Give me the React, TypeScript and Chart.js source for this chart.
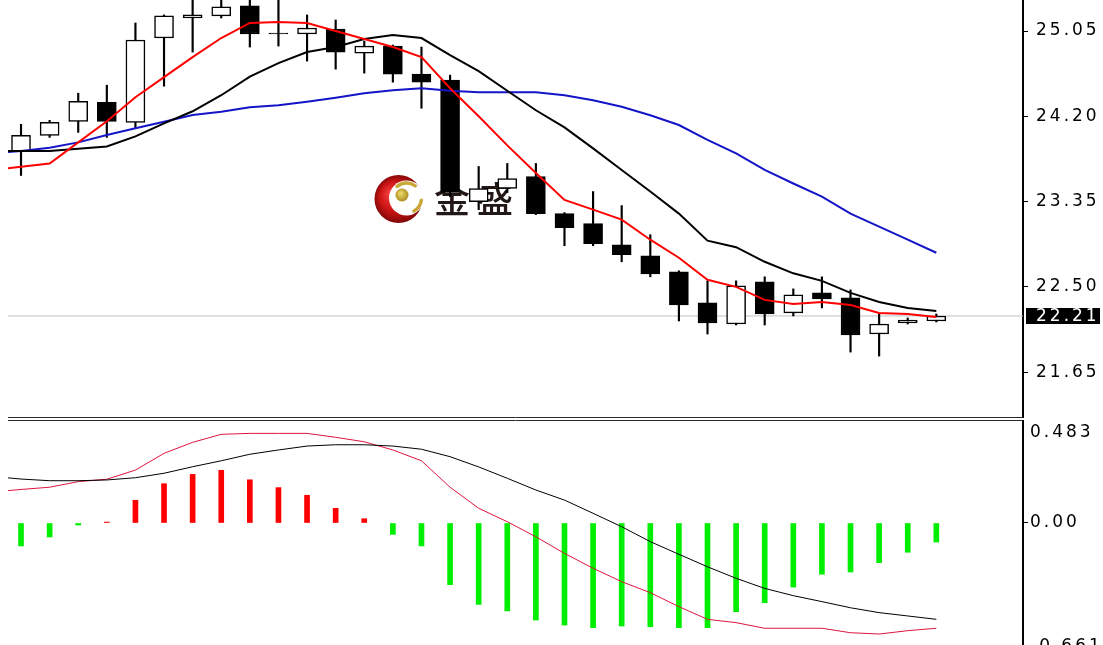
import React, { useEffect, useRef } from "react";
import { Chart, registerables } from "chart.js";

Chart.register(...registerables);

// ---- Candles (bar index 0..32) ----
const OPEN = [23.85, 24.01, 24.15, 24.34, 24.14, 24.98, 25.18, 25.2, 25.3, 25.03, 25.02, 25.07, 24.83, 24.9, 24.62, 24.56, 23.35, 23.48, 23.6, 23.23, 23.13, 22.92, 22.81, 22.65, 22.34, 22.13, 22.55, 22.24, 22.44, 22.39, 22.03, 22.14, 22.16];
const HIGH = [24.12, 24.16, 24.43, 24.51, 25.13, 25.21, 25.42, 25.4, 25.45, 25.41, 25.21, 25.16, 24.95, 24.91, 24.89, 24.61, 23.7, 23.73, 23.73, 23.24, 23.45, 23.31, 23.02, 22.66, 22.56, 22.56, 22.6, 22.48, 22.6, 22.47, 22.23, 22.19, 22.23];
const LOW = [23.61, 23.99, 24.04, 23.99, 24.08, 24.5, 24.84, 25.18, 24.89, 24.9, 24.75, 24.67, 24.63, 24.54, 24.28, 23.4, 23.27, 23.44, 23.22, 22.91, 22.91, 22.75, 22.6, 22.16, 22.03, 22.12, 22.12, 22.21, 22.29, 21.85, 21.81, 22.13, 22.15];
const CLOSE = [24.01, 24.14, 24.35, 24.15, 24.96, 25.2, 25.21, 25.29, 25.02, 25.02, 25.08, 24.84, 24.9, 24.62, 24.54, 23.44, 23.48, 23.58, 23.23, 23.09, 22.93, 22.82, 22.63, 22.32, 22.14, 22.51, 22.23, 22.42, 22.38, 22.02, 22.13, 22.17, 22.21];

// ---- Moving averages (first value = bar just left of the window, index -1) ----
const MA_RED = [23.665, 23.698, 23.73, 23.94, 24.15, 24.39, 24.59, 24.79, 24.98, 25.13, 25.14, 25.13, 25.05, 24.97, 24.89, 24.79, 24.48, 24.2, 23.91, 23.635, 23.366, 23.27, 23.17, 22.97, 22.79, 22.57, 22.5, 22.37, 22.33, 22.35, 22.32, 22.24, 22.23, 22.2];
const MA_BLACK = [23.854, 23.854, 23.854, 23.877, 23.9, 24.0, 24.13, 24.25, 24.41, 24.595, 24.73, 24.84, 24.89, 24.97, 25.01, 24.98, 24.81, 24.65, 24.455, 24.26, 24.09, 23.88, 23.665, 23.45, 23.23, 22.96, 22.895, 22.75, 22.635, 22.56, 22.44, 22.35, 22.29, 22.26];
const MA_BLUE = [23.83, 23.854, 23.887, 23.94, 24.014, 24.08, 24.146, 24.213, 24.246, 24.29, 24.31, 24.346, 24.385, 24.43, 24.46, 24.48, 24.455, 24.44, 24.44, 24.44, 24.41, 24.36, 24.295, 24.21, 24.113, 23.964, 23.83, 23.665, 23.53, 23.4, 23.23, 23.1, 22.97, 22.84];

// ---- MACD (lines start at index -1, histogram at index 0) ----
const MACD_DIF = [0.166, 0.18, 0.192, 0.222, 0.235, 0.284, 0.374, 0.433, 0.476, 0.481, 0.481, 0.481, 0.46, 0.436, 0.392, 0.334, 0.192, 0.079, 0.007, -0.074, -0.163, -0.243, -0.315, -0.374, -0.449, -0.517, -0.535, -0.565, -0.565, -0.565, -0.589, -0.596, -0.578, -0.565];
const MACD_DEA = [0.25, 0.236, 0.227, 0.227, 0.231, 0.243, 0.267, 0.302, 0.334, 0.369, 0.392, 0.413, 0.42, 0.42, 0.413, 0.396, 0.356, 0.301, 0.24, 0.177, 0.123, 0.052, -0.02, -0.1, -0.168, -0.235, -0.297, -0.351, -0.39, -0.422, -0.455, -0.481, -0.499, -0.517];
const MACD_HIST = [-0.123, -0.075, -0.011, 0.005, 0.122, 0.211, 0.261, 0.283, 0.232, 0.19, 0.149, 0.079, 0.023, -0.061, -0.123, -0.331, -0.437, -0.472, -0.521, -0.548, -0.562, -0.553, -0.557, -0.562, -0.562, -0.476, -0.428, -0.344, -0.275, -0.263, -0.213, -0.157, -0.102];

// ---- Tick labels ----
const PRICE_TICKS = [25.05, 24.2, 23.35, 22.5, 21.65];
const MACD_TICKS = [0.483, 0, -0.661];
const MACD_TICK_LABELS = ["0.483", "0.00", "-0.661"];

// ---- Axis ranges ----
const X_MIN = -0.455;
const X_MAX = 35.03;
const PRICE_MIN = 21.193;
const PRICE_MAX = 25.359;
const MACD_MIN = -0.73;
const MACD_MAX = 0.5475;

const FONT = "DejaVu Sans";
const LETTER_SPACING = "3px";

const linePts = (arr: number[]) => arr.map((v, k) => ({ x: k - 1, y: v }));

const fixAxis = (s: any) => {
  s.width = 80;
  s.paddingTop = 0;
  s.paddingBottom = 0;
  s.paddingLeft = 0;
  s.paddingRight = 0;
};

function drawWatermark(ctx: CanvasRenderingContext2D, area: any) {
  const cx = area.left + 390.5;
  const cy = area.top + 199;
  ctx.save();
  const g = ctx.createRadialGradient(cx - 9, cy - 6, 2, cx, cy, 25);
  g.addColorStop(0, "#ee3a3a");
  g.addColorStop(0.55, "#cc1414");
  g.addColorStop(1, "#7c0606");
  ctx.fillStyle = g;
  ctx.beginPath();
  ctx.arc(cx, cy, 24, 0, Math.PI * 2);
  ctx.fill();
  const ix = cx + 8;
  const iy = cy - 1;
  ctx.fillStyle = "#ffffff";
  ctx.beginPath();
  ctx.arc(ix, iy, 17.5, 0, Math.PI * 2);
  ctx.fill();
  ctx.strokeStyle = "#c9a83a";
  ctx.lineWidth = 3.5;
  ctx.lineCap = "round";
  ctx.beginPath();
  ctx.arc(ix, iy, 15, -2.25, -0.95);
  ctx.stroke();
  ctx.beginPath();
  ctx.arc(ix, iy, 15, 0.15, 1.05);
  ctx.stroke();
  const dg = ctx.createRadialGradient(cx + 2, cy - 6, 1, cx + 3.5, cy - 4, 7);
  dg.addColorStop(0, "#ead466");
  dg.addColorStop(1, "#a8891a");
  ctx.fillStyle = dg;
  ctx.beginPath();
  ctx.arc(cx + 3.5, cy - 4, 6.5, 0, Math.PI * 2);
  ctx.fill();
  ctx.fillStyle = "#231815";
  ctx.font = '500 36px "Noto Sans CJK SC"';
  ctx.textBaseline = "middle";
  ctx.textAlign = "left";
  (ctx as any).letterSpacing = "7px";
  ctx.fillText("金盛", area.left + 426, cy);
  ctx.restore();
}

function mainConfig(): any {
  const idx = OPEN.map((_, i) => i);
  const bodies = idx.map((i) => ({ x: i, y: [OPEN[i], CLOSE[i]] }));
  const wicks = idx.map((i) => ({ x: i, y: [LOW[i], HIGH[i]] }));
  const last = CLOSE[CLOSE.length - 1];
  const plugin = {
    id: "mainDecor",
    beforeDraw(chart: any) {
      chart.ctx.letterSpacing = LETTER_SPACING;
    },
    beforeDatasetsDraw(chart: any) {
      drawWatermark(chart.ctx, chart.chartArea);
    },
    afterDraw(chart: any) {
      const { ctx, chartArea, scales } = chart;
      ctx.save();
      ctx.strokeStyle = "#2a2a2a";
      ctx.lineWidth = 1;
      ctx.beginPath();
      ctx.moveTo(chartArea.left, chartArea.bottom - 0.5);
      ctx.lineTo(chartArea.right, chartArea.bottom - 0.5);
      ctx.stroke();
      const y = Math.round(scales.y.getPixelForValue(last));
      ctx.fillStyle = "#000";
      ctx.fillRect(chartArea.right + 3, y - 8, 74, 16);
      ctx.fillStyle = "#fff";
      ctx.font = `17px "${FONT}"`;
      ctx.textBaseline = "middle";
      ctx.textAlign = "left";
      ctx.letterSpacing = LETTER_SPACING;
      ctx.fillText(last.toFixed(2), chartArea.right + 13, y + 0.5);
      ctx.restore();
    },
  };
  return {
    type: "bar",
    data: {
      datasets: [
        { type: "line", data: linePts(MA_RED), borderColor: "#ff0000", borderWidth: 2, pointRadius: 0, order: 0, clip: 0 },
        { type: "line", data: linePts(MA_BLACK), borderColor: "#000000", borderWidth: 2, pointRadius: 0, order: 1, clip: 0 },
        { type: "line", data: linePts(MA_BLUE), borderColor: "#1414c8", borderWidth: 2, pointRadius: 0, order: 2, clip: 0 },
        {
          type: "bar",
          data: bodies,
          backgroundColor: (c: any) => (CLOSE[c.dataIndex] >= OPEN[c.dataIndex] ? "#ffffff" : "#000000"),
          borderColor: "#000000",
          borderWidth: 1.5,
          borderSkipped: false,
          barThickness: 19,
          grouped: false,
          order: 5,
          clip: 0,
        },
        { type: "bar", data: wicks, backgroundColor: "#000000", borderWidth: 0, barThickness: 1.5, grouped: false, order: 6, clip: 0 },
        {
          type: "line",
          data: [
            { x: X_MIN - 1, y: last },
            { x: X_MAX + 1, y: last },
          ],
          borderColor: "#c0c0c0",
          borderWidth: 1,
          pointRadius: 0,
          order: 7,
          clip: 0,
        },
      ],
    },
    options: {
      responsive: false,
      animation: false,
      events: [],
      layout: { padding: { left: 8, top: 0, bottom: 0, right: 0 }, autoPadding: false },
      plugins: { legend: { display: false }, tooltip: { enabled: false } },
      scales: {
        x: { type: "linear", min: X_MIN, max: X_MAX, offset: false, display: false },
        y: {
          position: "right",
          min: PRICE_MIN,
          max: PRICE_MAX,
          afterFit: fixAxis,
          afterBuildTicks: (s: any) => {
            s.ticks = PRICE_TICKS.map((v) => ({ value: v }));
          },
          ticks: {
            callback: (v: any) => Number(v).toFixed(2),
            color: "#000",
            font: { family: FONT, size: 17 },
            padding: 8,
          },
          grid: { drawOnChartArea: false, drawTicks: true, tickLength: 5, color: "#000", lineWidth: 1 },
          border: { display: true, color: "#000", width: 2 },
        },
      },
    },
    plugins: [plugin],
  };
}

function macdConfig(): any {
  const hist = MACD_HIST.map((v, i) => ({ x: i, y: v }));
  const plugin = {
    id: "macdDecor",
    beforeDraw(chart: any) {
      chart.ctx.letterSpacing = LETTER_SPACING;
    },
    afterDraw(chart: any) {
      const { ctx, chartArea } = chart;
      ctx.save();
      ctx.strokeStyle = "#2a2a2a";
      ctx.lineWidth = 1;
      ctx.beginPath();
      ctx.moveTo(chartArea.left, chartArea.top - 0.5);
      ctx.lineTo(chartArea.right, chartArea.top - 0.5);
      ctx.stroke();
      ctx.restore();
    },
  };
  return {
    type: "bar",
    data: {
      datasets: [
        { type: "line", data: linePts(MACD_DEA), borderColor: "#000000", borderWidth: 1, pointRadius: 0, order: 0, clip: 0 },
        { type: "line", data: linePts(MACD_DIF), borderColor: "#dc143c", borderWidth: 1, pointRadius: 0, order: 1, clip: 0 },
        {
          type: "bar",
          data: hist,
          backgroundColor: (c: any) => (MACD_HIST[c.dataIndex] >= 0 ? "#ff0000" : "#00ee00"),
          borderWidth: 0,
          barThickness: 5,
          grouped: false,
          order: 2,
          clip: 0,
        },
      ],
    },
    options: {
      responsive: false,
      animation: false,
      events: [],
      layout: { padding: { left: 8, top: 3, bottom: 0, right: 0 }, autoPadding: false },
      plugins: { legend: { display: false }, tooltip: { enabled: false } },
      scales: {
        x: { type: "linear", min: X_MIN, max: X_MAX, offset: false, display: false },
        y: {
          position: "right",
          min: MACD_MIN,
          max: MACD_MAX,
          afterFit: fixAxis,
          afterBuildTicks: (s: any) => {
            s.ticks = MACD_TICKS.map((v) => ({ value: v }));
          },
          ticks: {
            callback: (_v: any, i: number) => MACD_TICK_LABELS[i],
            color: "#000",
            font: { family: FONT, size: 17 },
            padding: 2,
          },
          grid: {
            drawOnChartArea: false,
            drawTicks: true,
            tickLength: 5,
            color: (c: any) => (c.tick && c.tick.value === 0 ? "#000" : "rgba(0,0,0,0)"),
            lineWidth: 1,
          },
          border: { display: true, color: "#000", width: 2 },
        },
      },
    },
    plugins: [plugin],
  };
}

export default function App() {
  const mainRef = useRef<HTMLCanvasElement>(null);
  const macdRef = useRef<HTMLCanvasElement>(null);

  useEffect(() => {
    const c1 = new Chart(mainRef.current as HTMLCanvasElement, mainConfig());
    const c2 = new Chart(macdRef.current as HTMLCanvasElement, macdConfig());
    return () => {
      c1.destroy();
      c2.destroy();
    };
  }, []);

  return (
    <div
      style={{
        position: "fixed",
        left: 0,
        top: 0,
        width: 1103,
        height: 645,
        overflow: "hidden",
        background: "#ffffff",
      }}
    >
      <canvas
        ref={mainRef}
        width={1103}
        height={418}
        style={{ position: "absolute", left: 0, top: 0, width: 1103, height: 418 }}
      />
      <canvas
        ref={macdRef}
        width={1103}
        height={241}
        style={{ position: "absolute", left: 0, top: 418, width: 1103, height: 241 }}
      />
    </div>
  );
}
